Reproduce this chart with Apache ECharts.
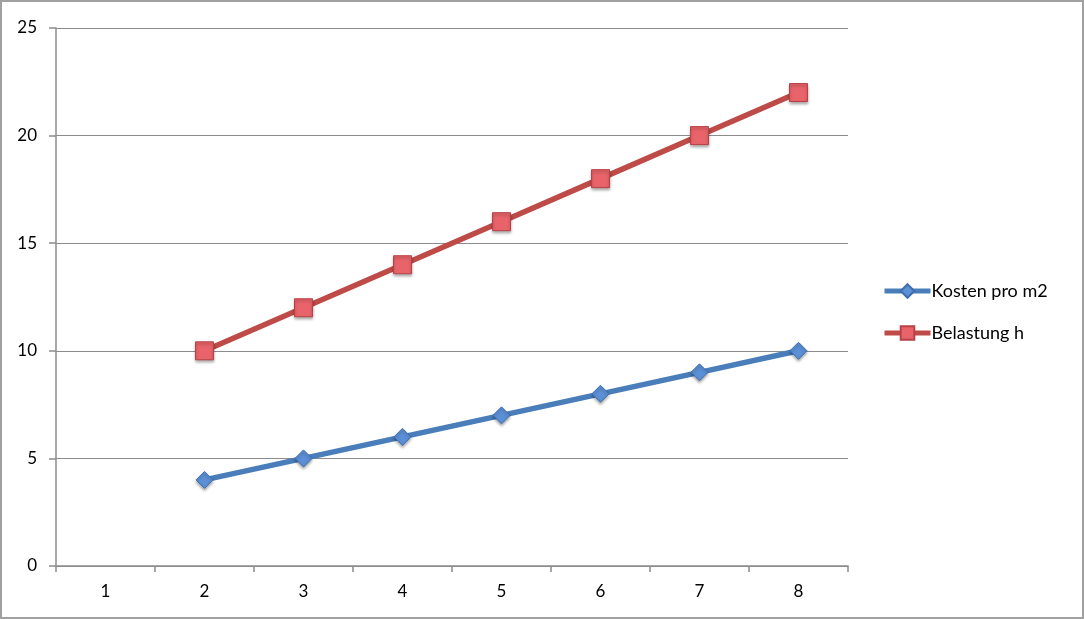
<!DOCTYPE html>
<html><head><meta charset="utf-8">
<script src="https://cdn.jsdelivr.net/npm/echarts@6/dist/echarts.min.js"></script>
<style>
html,body{margin:0;padding:0;background:#fff;}
#frame{position:absolute;left:0;top:0;width:1084px;height:619px;box-sizing:border-box;border:2px solid #a0a0a0;}
#chart{position:absolute;left:0;top:0;width:1084px;height:619px;}
</style></head>
<body>
<div id="frame"></div>
<div id="chart"></div>
<script>
const categories = ['1','2','3','4','5','6','7','8'];
const kosten = [null, 4, 5, 6, 7, 8, 9, 10];
const belastung = [null, 10, 12, 14, 16, 18, 20, 22];
const seriesNames = ['Kosten pro m2', 'Belastung h'];

const chart = echarts.init(document.getElementById('chart'));
const font = 'Lato, Open Sans, sans-serif';
chart.setOption({
  animation: false,
  grid: {left: 56, top: 28, right: 236, bottom: 53},
  legend: {
    orient: 'vertical', left: 882, top: 282, itemGap: 24,
    itemWidth: 46, itemHeight: 17, padding: 0,
    lineStyle: {width: 5},
    textStyle: {fontFamily: font, fontSize: 18, color: '#000', padding: [0,0,0,-4]},
    data: seriesNames
  },
  xAxis: {
    type: 'category', data: categories, boundaryGap: true,
    axisLine: {lineStyle: {color: '#8c8c8c', width: 1.5}},
    axisTick: {show: true, length: 6, lineStyle: {color: '#8c8c8c', width: 1.5}},
    axisLabel: {fontFamily: font, fontSize: 17, color: '#000', margin: 17}
  },
  yAxis: {
    type: 'value', min: 0, max: 25, interval: 5,
    axisLine: {show: true, lineStyle: {color: '#8c8c8c', width: 1.5}},
    axisTick: {show: true, length: 7, lineStyle: {color: '#8c8c8c', width: 1.5}},
    splitLine: {lineStyle: {color: '#8c8c8c', width: 1.2}},
    axisLabel: {fontFamily: font, fontSize: 17, color: '#000', margin: 19}
  },
  series: [
    {
      name: seriesNames[0], type: 'line', data: kosten,
      symbol: 'diamond', symbolSize: 17,
      lineStyle: {color: '#4a7ebb', width: 5.5},
      itemStyle: {color: '#5b8fd6', borderColor: '#3f6fae', borderWidth: 1, shadowColor: 'rgba(0,0,0,0.35)', shadowBlur: 3, shadowOffsetY: 2},
      z: 3
    },
    {
      name: seriesNames[1], type: 'line', data: belastung,
      symbol: 'rect', symbolSize: 18,
      lineStyle: {color: '#be4b48', width: 5.5},
      itemStyle: {color: '#e8646a', borderColor: '#b94145', borderWidth: 1, shadowColor: 'rgba(0,0,0,0.35)', shadowBlur: 3, shadowOffsetY: 2},
      z: 3
    }
  ]
});
</script>
</body></html>
